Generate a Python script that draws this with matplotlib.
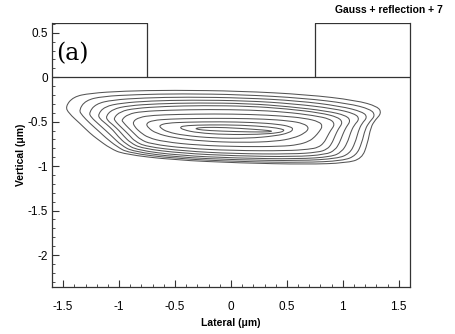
import matplotlib
matplotlib.use("Agg")
import matplotlib.pyplot as plt
from matplotlib.path import Path
from matplotlib.patches import PathPatch
from matplotlib.ticker import MultipleLocator

# axis extents (um)
x_range = [-1.6, 1.6]
y_range = [-2.36, 0.61]
trench_half = 0.75
oxide_top = 0.61

x_ticks = [-1.5, -1, -0.5, 0, 0.5, 1, 1.5]
x_ticklabels = ["-1.5", "-1", "-0.5", "0", "0.5", "1", "1.5"]
y_ticks = [0.5, 0, -0.5, -1, -1.5, -2]
y_ticklabels = ["0.5", "0", "-0.5", "-1", "-1.5", "-2"]

# contour lines, outermost first (x, y in um)
c1_x = [-1.48, -1.41, -1.26, -0.96, -0.52, 0.08, 0.68, 1.12, 1.315, 1.345, 1.29, 1.25, 1.22, 1.17, 1.03, 0.68, 0.08, -0.52, -0.96, -1.08, -1.2, -1.26, -1.35, -1.45]
c1_y = [-0.33, -0.22, -0.18, -0.155, -0.145, -0.155, -0.195, -0.26, -0.33, -0.405, -0.48, -0.56, -0.75, -0.915, -0.965, -0.98, -0.965, -0.93, -0.865, -0.80, -0.69, -0.63, -0.52, -0.405]
c2_x = [-1.36, -1.30, -1.15, -0.85, -0.45, 0.1, 0.65, 1.05, 1.25, 1.29, 1.24, 1.20, 1.17, 1.12, 1.0, 0.65, 0.08, -0.5, -0.92, -1.02, -1.12, -1.17, -1.26, -1.33]
c2_y = [-0.37, -0.26, -0.215, -0.195, -0.185, -0.195, -0.235, -0.295, -0.36, -0.43, -0.5, -0.58, -0.74, -0.88, -0.94, -0.96, -0.95, -0.915, -0.85, -0.78, -0.68, -0.62, -0.52, -0.43]
c3_x = [-1.27, -1.21, -1.06, -0.78, -0.4, 0.12, 0.6, 0.98, 1.18, 1.22, 1.17, 1.14, 1.11, 1.06, 0.95, 0.62, 0.06, -0.48, -0.88, -0.98, -1.06, -1.11, -1.19, -1.25]
c3_y = [-0.40, -0.30, -0.255, -0.232, -0.222, -0.232, -0.265, -0.325, -0.39, -0.45, -0.52, -0.6, -0.74, -0.86, -0.915, -0.94, -0.93, -0.9, -0.835, -0.765, -0.67, -0.61, -0.52, -0.45]
c4_x = [-1.19, -1.13, -0.98, -0.72, -0.36, 0.14, 0.56, 0.92, 1.11, 1.15, 1.10, 1.07, 1.04, 0.99, 0.9, 0.6, 0.05, -0.46, -0.84, -0.94, -1.01, -1.05, -1.12, -1.17]
c4_y = [-0.42, -0.33, -0.29, -0.266, -0.256, -0.264, -0.298, -0.352, -0.41, -0.47, -0.54, -0.62, -0.74, -0.84, -0.895, -0.92, -0.91, -0.88, -0.82, -0.75, -0.665, -0.6, -0.52, -0.47]
c5_x = [-1.12, -1.06, -0.92, -0.66, -0.3, 0.15, 0.52, 0.86, 1.03, 1.07, 1.03, 1.0, 0.97, 0.93, 0.85, 0.57, 0.04, -0.44, -0.8, -0.9, -0.96, -1.0, -1.06, -1.1]
c5_y = [-0.44, -0.36, -0.32, -0.298, -0.288, -0.295, -0.33, -0.38, -0.43, -0.49, -0.56, -0.64, -0.74, -0.82, -0.87, -0.895, -0.885, -0.855, -0.8, -0.735, -0.66, -0.6, -0.53, -0.49]
c6_x = [-1.05, -0.99, -0.86, -0.6, -0.25, 0.16, 0.5, 0.8, 0.96, 1.0, 0.96, 0.93, 0.9, 0.86, 0.78, 0.54, 0.03, -0.42, -0.76, -0.86, -0.91, -0.95, -1.0, -1.03]
c6_y = [-0.46, -0.385, -0.35, -0.328, -0.318, -0.325, -0.355, -0.4, -0.45, -0.51, -0.58, -0.66, -0.75, -0.81, -0.845, -0.865, -0.86, -0.83, -0.78, -0.72, -0.65, -0.6, -0.54, -0.5]
c7_x = [-0.98, -0.92, -0.8, -0.55, -0.2, 0.17, 0.48, 0.74, 0.89, 0.93, 0.89, 0.86, 0.83, 0.78, 0.7, 0.5, 0.02, -0.4, -0.72, -0.81, -0.86, -0.9, -0.94, -0.96]
c7_y = [-0.48, -0.415, -0.385, -0.37, -0.362, -0.368, -0.39, -0.43, -0.47, -0.53, -0.6, -0.67, -0.74, -0.79, -0.81, -0.828, -0.825, -0.8, -0.75, -0.7, -0.64, -0.59, -0.54, -0.51]
c8_x = [-0.88, -0.82, -0.7, -0.48, -0.15, 0.18, 0.45, 0.66, 0.79, 0.82, 0.79, 0.75, 0.7, 0.6, 0.45, 0.1, -0.3, -0.6, -0.74, -0.81, -0.86]
c8_y = [-0.5, -0.45, -0.428, -0.418, -0.412, -0.418, -0.435, -0.46, -0.5, -0.55, -0.61, -0.67, -0.72, -0.76, -0.778, -0.782, -0.765, -0.725, -0.68, -0.62, -0.56]
c9_x = [-0.76, -0.7, -0.55, -0.3, 0.0, 0.3, 0.52, 0.65, 0.7, 0.66, 0.56, 0.4, 0.1, -0.25, -0.52, -0.67, -0.74]
c9_y = [-0.52, -0.485, -0.47, -0.463, -0.462, -0.47, -0.49, -0.52, -0.57, -0.63, -0.685, -0.722, -0.735, -0.72, -0.68, -0.63, -0.57]
c10_x = [-0.64, -0.57, -0.4, -0.1, 0.2, 0.42, 0.53, 0.56, 0.52, 0.4, 0.15, -0.15, -0.42, -0.57, -0.63]
c10_y = [-0.54, -0.515, -0.505, -0.5, -0.508, -0.528, -0.555, -0.585, -0.625, -0.66, -0.688, -0.685, -0.655, -0.615, -0.57]
c11_x = [-0.46, -0.4, -0.2, 0.1, 0.35, 0.46, 0.48, 0.43, 0.25, -0.05, -0.3, -0.43]
c11_y = [-0.56, -0.543, -0.535, -0.538, -0.56, -0.583, -0.6, -0.625, -0.643, -0.645, -0.625, -0.59]
c12_x = [-0.32, -0.25, -0.05, 0.2, 0.35, 0.37, 0.3, 0.05, -0.2, -0.3]
c12_y = [-0.575, -0.563, -0.565, -0.585, -0.6, -0.61, -0.617, -0.612, -0.6, -0.587]

contours = [(c1_x, c1_y), (c2_x, c2_y), (c3_x, c3_y), (c4_x, c4_y),
            (c5_x, c5_y), (c6_x, c6_y), (c7_x, c7_y), (c8_x, c8_y),
            (c9_x, c9_y), (c10_x, c10_y), (c11_x, c11_y), (c12_x, c12_y)]


def smooth_loop(xs, ys):
    # closed quadratic bezier: read points act as control points
    pts = list(zip(xs, ys))
    n = len(pts)
    mid = lambda a, b: ((a[0] + b[0]) / 2, (a[1] + b[1]) / 2)
    verts = [mid(pts[-1], pts[0])]
    codes = [Path.MOVETO]
    for i in range(n):
        verts += [pts[i], mid(pts[i], pts[(i + 1) % n])]
        codes += [Path.CURVE3, Path.CURVE3]
    return Path(verts, codes)


plt.rcParams['font.family'] = ['Liberation Sans', 'DejaVu Sans']

fig = plt.figure(figsize=(4.56, 3.34), dpi=100)
ax = fig.add_axes([0.114, 0.1407, 0.785, 0.7903])

for cx, cy in contours:
    ax.add_patch(PathPatch(smooth_loop(cx, cy), fill=False, edgecolor='#555555', lw=0.75))

# oxide / trench outline
edge = dict(color='#333333', lw=0.9, solid_capstyle='butt')
ax.plot([x_range[0], x_range[1]], [0, 0], **edge)
ax.plot([x_range[0], -trench_half, -trench_half], [oxide_top, oxide_top, 0], **edge)
ax.plot([trench_half, trench_half, x_range[1]], [0, oxide_top, oxide_top], **edge)

ax.set_xlim(x_range)
ax.set_ylim(y_range)
ax.spines['top'].set_visible(False)
for s in ['left', 'right', 'bottom']:
    ax.spines[s].set_color('#333333')
    ax.spines[s].set_linewidth(0.9)

ax.set_xticks(x_ticks)
ax.set_xticklabels(x_ticklabels)
ax.set_yticks(y_ticks)
ax.set_yticklabels(y_ticklabels)
ax.xaxis.set_minor_locator(MultipleLocator(0.1))
ax.yaxis.set_minor_locator(MultipleLocator(0.1))
ax.tick_params(which='both', direction='in', top=False, right=False, color='#333333')
ax.tick_params(which='major', length=5, width=0.8, labelsize=8.5)
ax.tick_params(axis='x', which='major', pad=10)
ax.tick_params(axis='y', which='major', pad=3)
ax.tick_params(which='minor', length=2.5, width=0.6)

ax.set_xlabel(u"Lateral (\u03bcm)", fontsize=7.5, fontweight='bold', labelpad=4)
ax.set_ylabel(u"Vertical (\u03bcm)", fontsize=7.5, fontweight='bold', labelpad=1)

ax.text(-1.565, 0.27, "(a)", family='DejaVu Serif', fontsize=17, va='center', ha='left')
fig.text(0.971, 0.97, "Gauss + reflection + 7", fontsize=7.5, fontweight='bold',
         ha='right', va='center')

fig.savefig("out.png", dpi=100)
